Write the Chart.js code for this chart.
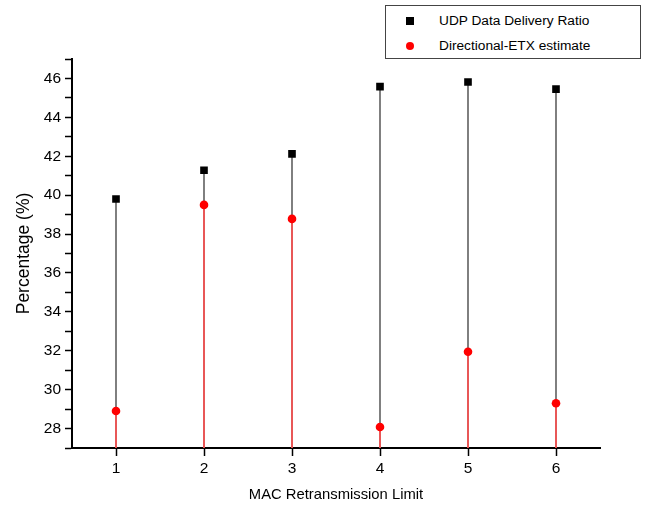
<!DOCTYPE html>
<html>
<head>
<meta charset="utf-8">
<script src="https://cdn.jsdelivr.net/npm/chart.js@4"></script>
<style>
  html, body { margin: 0; padding: 0; background: #fff; }
  #wrap { position: relative; width: 656px; height: 505px; }
  #legend {
    position: absolute; left: 385px; top: 5px; width: 254px; height: 52px;
    border: 1px solid #444; background: #fff;
    font-family: "Liberation Sans", Arial, sans-serif; font-size: 13.7px; color: #000;
  }
  .item { position: absolute; left: 0; height: 16px; line-height: 16px; }
  .item span { position: absolute; left: 53px; white-space: nowrap; }
  .mark { position: absolute; left: 20px; top: 4px; width: 8px; height: 8px; }
</style>
</head>
<body>
<div id="wrap">
  <canvas id="chart" width="656" height="505"></canvas>
  <div id="legend">
    <div class="item" style="top:7px"><div class="mark" style="background:#000"></div><span>UDP Data Delivery Ratio</span></div>
    <div class="item" style="top:32px"><div class="mark" style="background:#f00;border-radius:50%"></div><span>Directional-ETX estimate</span></div>
  </div>
</div>
<script>
// data
const retxLimits = ['1', '2', '3', '4', '5', '6'];
const udpDelivery = [39.8, 41.28, 42.12, 45.58, 45.82, 45.45];
const etxEstimate = [28.9, 39.5, 38.78, 28.08, 31.95, 29.3];

const font = { family: '"Liberation Sans", Arial, sans-serif', size: 15.5 };

const ctx = document.getElementById('chart').getContext('2d');
new Chart(ctx, {
  data: {
    labels: retxLimits,
    datasets: [
      // drop lines
      { type: 'bar', data: udpDelivery, backgroundColor: '#666', barThickness: 1, grouped: false, order: 4 },
      { type: 'bar', data: etxEstimate, backgroundColor: '#ff5050', barThickness: 1, grouped: false, order: 3 },
      // markers
      {
        type: 'line', label: 'UDP Data Delivery Ratio', data: udpDelivery, showLine: false,
        pointStyle: 'rect', pointRadius: 5.4, borderWidth: 0,
        backgroundColor: '#000', borderColor: '#000', order: 2,
      },
      {
        type: 'line', label: 'Directional-ETX estimate', data: etxEstimate, showLine: false,
        pointStyle: 'circle', pointRadius: 4.3, borderWidth: 0,
        backgroundColor: '#f00', borderColor: '#f00', order: 1,
      },
    ],
  },
  options: {
    responsive: false,
    animation: false,
    layout: { padding: { left: 0, top: 59, right: 56, bottom: 0 } },
    plugins: { legend: { display: false }, tooltip: { enabled: false } },
    scales: {
      x: {
        type: 'category',
        offset: true,
        grid: { offset: false, drawOnChartArea: false, tickLength: 8, tickColor: '#000', tickWidth: 1.5 },
        border: { color: '#000', width: 2 },
        ticks: { color: '#000', font, padding: 3 },
        title: { display: true, text: 'MAC Retransmission Limit', color: '#000', font: { ...font, size: 14.8 }, padding: { top: 0, bottom: 1 } },
        afterFit: s => { s.height = 57; },
      },
      y: {
        min: 27,
        max: 47,
        grid: { drawOnChartArea: false, tickLength: 7, tickColor: '#000', tickWidth: 1.5 },
        border: { color: '#000', width: 2 },
        ticks: {
          stepSize: 1, autoSkip: false, color: '#000', font, padding: 4,
          callback: v => (v % 2 === 0 ? v : ''),
        },
        title: { display: true, text: 'Percentage (%)', color: '#000', font: { ...font, size: 17.5 }, padding: { top: 14, bottom: 0 } },
        afterFit: s => { s.width = 72; },
      },
    },
  },
});
</script>
</body>
</html>
